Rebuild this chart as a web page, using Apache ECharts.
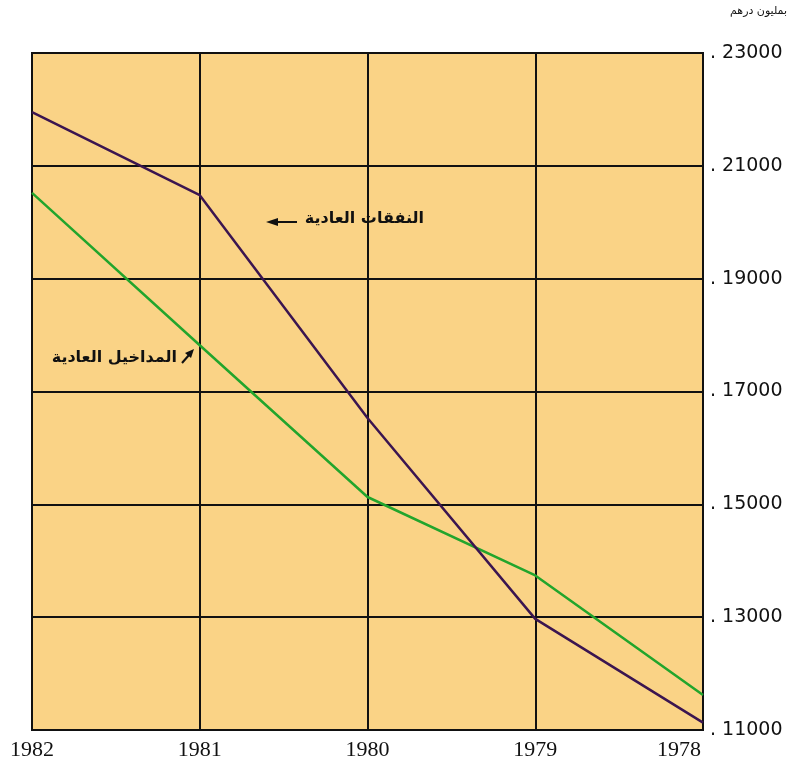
<!DOCTYPE html>
<html><head><meta charset="utf-8">
<script src="https://cdn.jsdelivr.net/npm/echarts@6/dist/echarts.min.js"></script>
<style>html,body{margin:0;padding:0;background:#fff}#c{width:791px;height:767px}</style>
</head><body><div id="c"></div>
<script>
const years = ['1982','1981','1980','1979','1978'];
const expenditure = [21950, 20480, 16530, 12970, 11130]; // النفقات العادية
const revenue = [20520, 17820, 15130, 13740, 11620];     // المداخيل العادية
const yMin = 11000, yMax = 23000, yStep = 2000;
const unitLabel = 'بمليون درهم';
const expLabel = 'النفقات العادية';
const revLabel = 'المداخيل العادية';

const chart = echarts.init(document.getElementById('c'));
const serif = '"Liberation Serif", "DejaVu Serif", serif';
const sans = '"DejaVu Sans", sans-serif';
const arab = '"DejaVu Sans", "Noto Sans", sans-serif';
chart.setOption({
  animation: false,
  backgroundColor: '#ffffff',
  grid: {left: 32, right: 88, top: 53, bottom: 37, show: true, backgroundColor: '#FAD386', borderColor: '#111', borderWidth: 2},
  xAxis: {
    type: 'category', data: years.map((y, i) => i === years.length - 1 ? {value: y, textStyle: {padding: [0, 48, 0, 0]}} : y),
    boundaryGap: false,
    axisLine: {lineStyle: {color: '#111', width: 2}},
    axisTick: {show: false},
    axisLabel: {color: '#111', fontFamily: serif, fontSize: 22, margin: 9, interval: 0},
    splitLine: {show: true, lineStyle: {color: '#111', width: 2}}
  },
  yAxis: {
    type: 'value', position: 'right', min: yMin, max: yMax, interval: yStep,
    axisLine: {show: true, lineStyle: {color: '#111', width: 2}},
    axisTick: {show: false},
    axisLabel: {color: '#111', fontFamily: sans, fontSize: 19, margin: 7, formatter: v => '. ' + v},
    splitLine: {show: true, lineStyle: {color: '#111', width: 2}}
  },
  series: [
    {type: 'line', name: expLabel, data: expenditure, symbol: 'none', lineStyle: {color: '#3B1550', width: 2.5}, z: 3},
    {type: 'line', name: revLabel, data: revenue, symbol: 'none', lineStyle: {color: '#22A52C', width: 2.5}, z: 2}
  ],
  graphic: [
    {type: 'text', right: 4, top: 6, style: {text: unitLabel, font: '11px ' + arab, fill: '#111'}},
    {type: 'text', x: 424, y: 219, style: {text: expLabel, font: 'bold 16px ' + arab, fill: '#111', textAlign: 'right', textVerticalAlign: 'middle'}},
    {type: 'line', shape: {x1: 297, y1: 222, x2: 274, y2: 222}, style: {stroke: '#111', lineWidth: 2}},
    {type: 'polygon', shape: {points: [[266, 222], [278, 218], [278, 226]]}, style: {fill: '#111'}},
    {type: 'text', x: 177, y: 358, style: {text: revLabel, font: 'bold 16px ' + arab, fill: '#111', textAlign: 'right', textVerticalAlign: 'middle'}},
    {type: 'line', shape: {x1: 182, y1: 363, x2: 189, y2: 355}, style: {stroke: '#111', lineWidth: 2}},
    {type: 'polygon', shape: {points: [[194, 349], [185, 353], [191, 358]]}, style: {fill: '#111'}}
  ]
});
</script></body></html>
